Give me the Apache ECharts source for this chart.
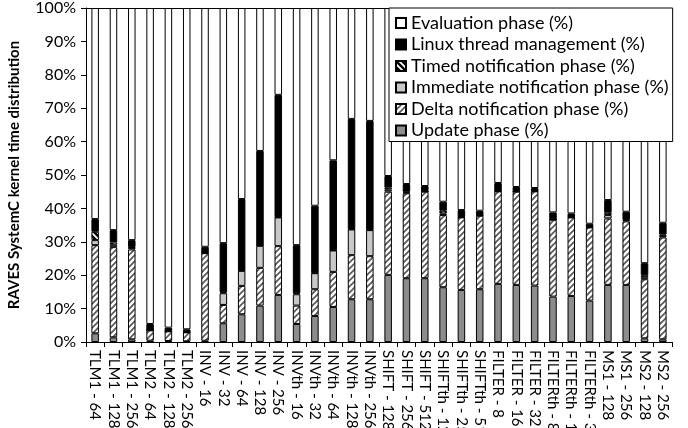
<!DOCTYPE html>
<html>
<head>
<meta charset="utf-8">
<script src="https://cdn.jsdelivr.net/npm/echarts@6/dist/echarts.min.js"></script>
<style>
  html, body { margin: 0; padding: 0; background: #fff; }
  #chart { width: 688px; height: 428px; }
</style>
</head>
<body>
<div id="chart"></div>
<script>
// Benchmark configurations (x axis)
const categories = [
  'TLM1 - 64', 'TLM1 - 128', 'TLM1 - 256', 'TLM2 - 64', 'TLM2 - 128', 'TLM2 - 256',
  'INV - 16', 'INV - 32', 'INV - 64', 'INV - 128', 'INV - 256',
  'INVth - 16', 'INVth - 32', 'INVth - 64', 'INVth - 128', 'INVth - 256',
  'SHIFT - 128', 'SHIFT - 256', 'SHIFT - 512',
  'SHIFTth - 128', 'SHIFTth - 256', 'SHIFTth - 512',
  'FILTER - 8', 'FILTER - 16', 'FILTER - 32',
  'FILTERth - 8', 'FILTERth - 16', 'FILTERth - 32',
  'MS1 - 128', 'MS1 - 256', 'MS2 - 128', 'MS2 - 256'
];

// Share of kernel time per phase (%), stacked bottom to top
const updatePhase = [2.6, 1.4, 0.8, 0.4, 0.3, 0.2, 0.4, 5.6, 8.3, 10.9, 14.1, 5.4, 7.8, 10.5, 12.8, 12.8,
  20.1, 19.1, 19.1, 16.4, 15.6, 15.8, 17.4, 17.1, 16.9, 13.6, 13.8, 12.4, 17.1, 17.1, 1.1, 0.8];
const deltaNotification = [26.4, 27.0, 26.9, 3.1, 2.9, 2.7, 26.2, 5.5, 8.5, 11.3, 14.6, 5.5, 8.0, 10.5, 13.2, 12.9,
  24.9, 25.4, 25.9, 21.6, 21.7, 22.0, 27.7, 27.9, 28.2, 23.0, 23.5, 21.9, 19.9, 19.0, 17.7, 30.5];
const immediateNotification = [1.5, 0.7, 0.5, 0.05, 0.05, 0.05, 0.1, 3.5, 4.5, 6.6, 8.6, 3.4, 4.8, 6.4, 7.7, 7.8,
  0.6, 0.3, 0.1, 0.5, 0.1, 0.1, 0.1, 0.1, 0.1, 0.1, 0.1, 0.1, 1.0, 0.4, 0.6, 0.5];
const timedNotification = [2.5, 0.7, 0.2, 0.05, 0.05, 0.05, 0.1, 0.3, 0.1, 0.1, 0.1, 0.3, 0.1, 0.1, 0.1, 0.1,
  0.6, 0.2, 0.1, 0.8, 0.1, 0.1, 0.1, 0.1, 0.1, 0.1, 0.1, 0.1, 0.7, 0.2, 0.6, 0.4];
const linuxThreadMgmt = [3.8, 3.7, 2.1, 1.8, 1.0, 0.8, 1.7, 14.7, 21.4, 28.3, 36.6, 14.4, 20.1, 26.9, 33.0, 32.6,
  3.5, 2.3, 1.5, 2.7, 2.0, 1.3, 2.3, 1.2, 0.8, 2.0, 1.0, 0.9, 3.8, 2.3, 3.6, 3.5];
const evaluationPhase = [63.2, 66.5, 69.5, 94.6, 95.7, 96.2, 71.5, 70.4, 57.2, 42.8, 26.0, 71.0, 59.2, 45.6, 33.2, 33.8,
  50.3, 52.7, 53.3, 58.0, 60.5, 60.7, 52.4, 53.6, 53.9, 61.2, 61.5, 64.6, 57.5, 61.0, 76.4, 64.3];

const yTicks = [0, 10, 20, 30, 40, 50, 60, 70, 80, 90, 100];

const FONT = 'Lato';

// Diagonal hatch tile; dir 1 draws "/" lines, -1 draws "\" lines
function hatch(size, lineWidth, fg, bg, dir) {
  const c = document.createElement('canvas');
  c.width = size; c.height = size;
  const g = c.getContext('2d');
  g.fillStyle = bg; g.fillRect(0, 0, size, size);
  g.strokeStyle = fg; g.lineWidth = lineWidth;
  g.beginPath();
  for (let k = -1; k <= 1; k++) {
    const o = k * size;
    if (dir > 0) { g.moveTo(o - 1, size + 1); g.lineTo(o + size + 1, -1); }
    else { g.moveTo(o - 1, -1); g.lineTo(o + size + 1, size + 1); }
  }
  g.stroke();
  return { image: c, repeat: 'repeat' };
}

const deltaFill = hatch(6, 1.6, '#555555', '#ffffff', 1);
const timedFill = hatch(6, 2.4, '#000000', '#ffffff', -1);

function layer(name, data, color) {
  return {
    name, type: 'bar', stack: 'total', data,
    barWidth: '41%',
    itemStyle: { color, borderColor: '#000', borderWidth: 1 },
    emphasis: { disabled: true }
  };
}

const chart = echarts.init(document.getElementById('chart'), null, { renderer: 'canvas' });
chart.setOption({
  animation: false,
  textStyle: { fontFamily: FONT, color: '#000' },
  grid: { left: 86, right: 16, top: 8, bottom: 86, containLabel: false, outerBoundsMode: 'none' },
  legend: {
    orient: 'vertical', left: 389, top: 8,
    padding: [6, 4, 2, 6], itemGap: 3.5, itemWidth: 10, itemHeight: 10,
    backgroundColor: '#fff', borderColor: '#000', borderWidth: 1,
    icon: 'rect',
    textStyle: { fontFamily: FONT, fontSize: 18, color: '#000', lineHeight: 18 },
    data: ['Evaluation phase (%)', 'Linux thread management (%)', 'Timed notification phase (%)',
           'Immediate notification phase (%)', 'Delta notification phase (%)', 'Update phase (%)']
  },
  xAxis: [{
    type: 'category', data: categories,
    axisLine: { lineStyle: { color: '#000', width: 1 } },
    axisTick: { show: true, alignWithLabel: false, length: 5, lineStyle: { color: '#000' } },
    axisLabel: { rotate: -90, interval: 0, fontFamily: FONT, fontSize: 15, color: '#000', margin: 8 }
  }, {
    type: 'category', data: categories, position: 'top',
    axisLine: { lineStyle: { color: '#000', width: 1 } },
    axisTick: { show: false }, axisLabel: { show: false }
  }],
  yAxis: {
    type: 'value', min: yTicks[0], max: yTicks[yTicks.length - 1], interval: 10,
    name: 'RAVES SystemC kernel time distribution',
    nameLocation: 'middle', nameGap: 64, nameRotate: 90,
    nameTextStyle: { fontFamily: FONT, fontSize: 15, fontWeight: 'bold', color: '#000' },
    axisLine: { show: true, lineStyle: { color: '#000', width: 1 } },
    axisTick: { show: true, length: 5, lineStyle: { color: '#000' } },
    splitLine: { show: false },
    axisLabel: { formatter: '{value}%', fontFamily: FONT, fontSize: 16, color: '#000', margin: 10 }
  },
  series: [
    layer('Update phase (%)', updatePhase, '#8c8c8c'),
    layer('Delta notification phase (%)', deltaNotification, deltaFill),
    layer('Immediate notification phase (%)', immediateNotification, '#c8c8c8'),
    layer('Timed notification phase (%)', timedNotification, timedFill),
    layer('Linux thread management (%)', linuxThreadMgmt, '#000000'),
    layer('Evaluation phase (%)', evaluationPhase, '#ffffff')
  ]
});
</script>
</body>
</html>
